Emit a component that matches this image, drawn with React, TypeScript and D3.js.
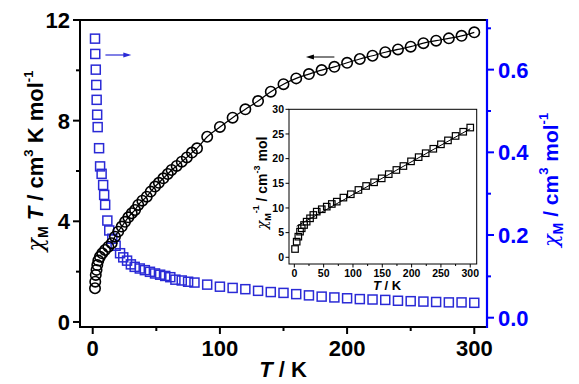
import React from "react";
import * as d3 from "d3";

// ---- data ----
const tempChiT = [1.8, 2.0, 2.4, 3.0, 3.6, 4.4, 5.7, 7.5, 9.7, 12.3, 14.9, 17.5, 20, 22.8, 25.4, 28, 30.7, 33.3, 35.8, 39, 42.5, 45.6, 49, 52, 55.5, 59, 62, 66, 70, 74, 78, 82, 90, 100, 110, 120, 130, 140, 150, 160, 170, 180, 190, 200, 210, 220, 230, 240, 250, 260, 270, 280, 290, 300];
const chiT = [1.34, 1.60, 1.87, 2.07, 2.26, 2.44, 2.59, 2.73, 2.86, 2.99, 3.13, 3.39, 3.59, 3.79, 3.98, 4.16, 4.32, 4.45, 4.65, 4.82, 4.98, 5.18, 5.38, 5.53, 5.71, 5.88, 6.04, 6.20, 6.37, 6.54, 6.73, 6.90, 7.36, 7.75, 8.12, 8.45, 8.78, 9.15, 9.45, 9.68, 9.85, 10.01, 10.14, 10.30, 10.45, 10.58, 10.72, 10.83, 10.94, 11.08, 11.18, 11.27, 11.37, 11.51];

const tempChi = [1.8, 2.0, 2.4, 2.8, 3.1, 3.5, 3.9, 5.0, 5.8, 7.0, 8.2, 9.0, 9.8, 11.5, 13, 15.4, 18, 21.5, 24, 27, 30, 33, 37, 41, 45, 49, 53, 57, 61, 65, 70, 75, 80, 90, 100, 110, 120, 130, 140, 150, 160, 170, 180, 190, 200, 210, 220, 230, 240, 250, 260, 270, 280, 290, 300];
const chi = [0.675, 0.638, 0.600, 0.563, 0.527, 0.491, 0.461, 0.410, 0.366, 0.348, 0.321, 0.297, 0.273, 0.235, 0.211, 0.191, 0.174, 0.156, 0.146, 0.138, 0.129, 0.123, 0.119, 0.115, 0.111, 0.107, 0.104, 0.101, 0.098, 0.092, 0.090, 0.087, 0.085, 0.080, 0.075, 0.072, 0.069, 0.065, 0.062, 0.060, 0.057, 0.054, 0.051, 0.049, 0.047, 0.045, 0.044, 0.043, 0.041, 0.040, 0.039, 0.038, 0.037, 0.037, 0.036];

const insetT = [1.2, 4, 6.8, 9.7, 12.6, 16.6, 21, 26.8, 32.4, 38.2, 46.8, 55.3, 63.9, 72.4, 83.7, 96.3, 109.3, 122.4, 136, 149, 161, 174, 186, 199, 212, 224, 237, 250, 262, 275, 288, 300];
const invChi = [1.68, 3.17, 4.18, 5.2, 5.88, 6.55, 7.22, 7.9, 8.58, 9.25, 9.74, 10.27, 10.81, 11.28, 12.1, 12.78, 13.65, 14.46, 15.2, 16.0, 16.85, 17.7, 18.5, 19.45, 20.3, 21.1, 22.0, 22.9, 23.7, 24.6, 25.45, 26.3];

const fitT = [4, 300];
const fitInv = [6.3, 26.05];

const xTicks = [0, 100, 200, 300];
const xMinor = [50, 150, 250];
const yLTicks = [0, 4, 8, 12];
const yLMinor = [2, 6, 10];
const yRTicks = [0.0, 0.2, 0.4, 0.6];
const yRMinor = [0.1, 0.3, 0.5, 0.7];
const insetXTicks = [0, 50, 100, 150, 200, 250, 300];
const insetXMinor = [25, 75, 125, 175, 225, 275];
const insetYTicks = [0, 5, 10, 15, 20, 25, 30];

const BLUE = "#0000ff";
const SQ = "#2a2ad6";
const FONT = "'Liberation Sans', Arial, sans-serif";

export default function App() {
  const x = d3.scaleLinear().domain([-10, 310]).range([80, 487]);
  const yL = d3.scaleLinear().domain([-0.2, 12]).range([327, 20]);
  const yR = d3.scaleLinear().domain([-0.0225, 0.7201]).range([327, 20]);

  const xi = d3.scaleLinear().domain([-9.1, 311]).range([289, 476.7]);
  const yi = d3.scaleLinear().domain([-1.36, 30]).range([264, 109.3]);

  const fitLine = d3
    .line<number>()
    .x((_, i) => x(tempChiT[i]))
    .y((d) => yL(d))
    .curve(d3.curveMonotoneX);
  const fitIdx = chiT.map((_, i) => i).filter((i) => tempChiT[i] >= 14);
  const fitPath = d3
    .line<number>()
    .x((i) => x(tempChiT[i]))
    .y((i) => yL(chiT[i]))
    .curve(d3.curveMonotoneX)(fitIdx);

  const insetFit = d3
    .line<number>()
    .x((_, i) => xi(fitT[i]))
    .y((d) => yi(d))(fitInv);

  const sq = 9;
  const isq = 6.5;

  return (
    <svg
      width={579}
      height={384}
      style={{ position: "absolute", left: 0, top: 0, background: "#fff" }}
      fontFamily={FONT}
    >
      <rect x={0} y={0} width={579} height={384} fill="#fff" />

      {/* blue squares */}
      {chi.map((v, i) => (
        <rect
          key={"b" + i}
          x={x(tempChi[i]) - sq / 2}
          y={yR(v) - sq / 2}
          width={sq}
          height={sq}
          fill="none"
          stroke={SQ}
          strokeWidth={1.5}
        />
      ))}

      {/* fit line through chiT */}
      <path d={fitPath || ""} fill="none" stroke="#000" strokeWidth={1.2} />

      {/* black circles */}
      {chiT.map((v, i) => (
        <circle
          key={"c" + i}
          cx={x(tempChiT[i])}
          cy={yL(v)}
          r={5.2}
          fill="none"
          stroke="#000"
          strokeWidth={1.6}
        />
      ))}

      {/* arrows */}
      <line x1={x(190)} y1={57} x2={x(170)} y2={57} stroke="#000" strokeWidth={1} />
      <path d={`M${x(170) - 3},57 L${x(170) + 5},54.5 L${x(170) + 5},59.5 Z`} fill="#000" />
      <line x1={x(10)} y1={55} x2={x(28)} y2={55} stroke={SQ} strokeWidth={1.2} />
      <path d={`M${x(28) + 3},55 L${x(28) - 5},52.5 L${x(28) - 5},57.5 Z`} fill={SQ} />

      {/* main frame */}
      <line x1={80} y1={20} x2={487} y2={20} stroke="#000" strokeWidth={2} />
      <line x1={80} y1={19} x2={80} y2={328} stroke="#000" strokeWidth={2} />
      <line x1={79} y1={327} x2={487} y2={327} stroke="#000" strokeWidth={2} />
      <line x1={487} y1={19} x2={487} y2={328} stroke={BLUE} strokeWidth={2.2} />

      {/* left ticks */}
      {yLTicks.map((t) => (
        <g key={"yl" + t}>
          <line x1={73} x2={80} y1={yL(t)} y2={yL(t)} stroke="#000" strokeWidth={2} />
          <text x={70} y={yL(t)} dy="0.36em" textAnchor="end" fontSize={22} fontWeight="bold">
            {t}
          </text>
        </g>
      ))}
      {yLMinor.map((t) => (
        <line key={"ylm" + t} x1={76} x2={80} y1={yL(t)} y2={yL(t)} stroke="#000" strokeWidth={2} />
      ))}

      {/* bottom ticks */}
      {xTicks.map((t) => (
        <g key={"x" + t}>
          <line x1={x(t)} x2={x(t)} y1={327} y2={334} stroke="#000" strokeWidth={2} />
          <text x={x(t)} y={356} textAnchor="middle" fontSize={22} fontWeight="bold">
            {t}
          </text>
        </g>
      ))}
      {xMinor.map((t) => (
        <line key={"xm" + t} x1={x(t)} x2={x(t)} y1={327} y2={331} stroke="#000" strokeWidth={2} />
      ))}

      {/* right ticks */}
      {yRTicks.map((t) => (
        <g key={"yr" + t}>
          <line x1={487} x2={494} y1={yR(t)} y2={yR(t)} stroke={BLUE} strokeWidth={2} />
          <text x={498} y={yR(t)} dy="0.36em" textAnchor="start" fontSize={22} fontWeight="bold" fill={BLUE}>
            {t.toFixed(1)}
          </text>
        </g>
      ))}
      {yRMinor.map((t) => (
        <line key={"yrm" + t} x1={487} x2={491} y1={yR(t)} y2={yR(t)} stroke={BLUE} strokeWidth={2} />
      ))}

      {/* axis titles */}
      <text x={283} y={377} textAnchor="middle" fontSize={22} fontWeight="bold">
        <tspan fontStyle="italic">T</tspan> / K
      </text>
      <text transform="rotate(-90)" x={-161} y={43} textAnchor="middle" fontSize={22} fontWeight="bold">
        <tspan fontStyle="italic" fontWeight="normal" fontFamily="'DejaVu Serif', serif">χ</tspan>
        <tspan fontSize={14} dy={5}>M</tspan>
        <tspan dy={-5} fontStyle="italic"> T</tspan>
        <tspan> / cm</tspan>
        <tspan fontSize={13} dy={-10}>3</tspan>
        <tspan dy={10}> K mol</tspan>
        <tspan fontSize={13} dy={-10}>-1</tspan>
      </text>
      <text transform="rotate(-90)" x={-180} y={558} textAnchor="middle" fontSize={21} fontWeight="bold" fill={BLUE}>
        <tspan fontStyle="italic" fontWeight="normal" fontFamily="'DejaVu Serif', serif">χ</tspan>
        <tspan fontSize={14} dy={5}>M</tspan>
        <tspan dy={-5}> / cm</tspan>
        <tspan fontSize={13} dy={-10}>3</tspan>
        <tspan dy={10}> mol</tspan>
        <tspan fontSize={13} dy={-10}>-1</tspan>
      </text>

      {/* inset */}
      <rect x={289} y={109.3} width={187.7} height={154.7} fill="#fff" stroke="#000" strokeWidth={1} />
      <path d={insetFit || ""} fill="none" stroke="#000" strokeWidth={1} />
      {invChi.map((v, i) => (
        <rect
          key={"i" + i}
          x={xi(insetT[i]) - isq / 2}
          y={yi(v) - isq / 2}
          width={isq}
          height={isq}
          fill="none"
          stroke="#000"
          strokeWidth={1.2}
        />
      ))}
      {insetXTicks.map((t) => (
        <g key={"ix" + t}>
          <line x1={xi(t)} x2={xi(t)} y1={264} y2={267.5} stroke="#000" strokeWidth={1} />
          <text x={xi(t)} y={277} textAnchor="middle" fontSize={10.5} fontWeight="bold">
            {t}
          </text>
        </g>
      ))}
      {insetXMinor.map((t) => (
        <line key={"ixm" + t} x1={xi(t)} x2={xi(t)} y1={264} y2={266} stroke="#000" strokeWidth={1} />
      ))}
      {insetYTicks.map((t) => (
        <g key={"iy" + t}>
          <line x1={285.5} x2={289} y1={yi(t)} y2={yi(t)} stroke="#000" strokeWidth={1} />
          <text x={284} y={yi(t)} dy="0.36em" textAnchor="end" fontSize={10.5} fontWeight="bold">
            {t}
          </text>
        </g>
      ))}
      <text x={387} y={290} textAnchor="middle" fontSize={13} fontWeight="bold">
        <tspan fontStyle="italic">T</tspan> / K
      </text>
      <text transform="rotate(-90)" x={-183} y={267} textAnchor="middle" fontSize={14} fontWeight="bold">
        <tspan fontStyle="italic" fontWeight="normal" fontFamily="'DejaVu Serif', serif">χ</tspan>
        <tspan fontSize={9} dy={4}>M</tspan>
        <tspan fontSize={9} dy={-12}>-1</tspan>
        <tspan dy={8}> / cm</tspan>
        <tspan fontSize={9} dy={-7}>-3</tspan>
        <tspan dy={7}> mol</tspan>
      </text>
    </svg>
  );
}
